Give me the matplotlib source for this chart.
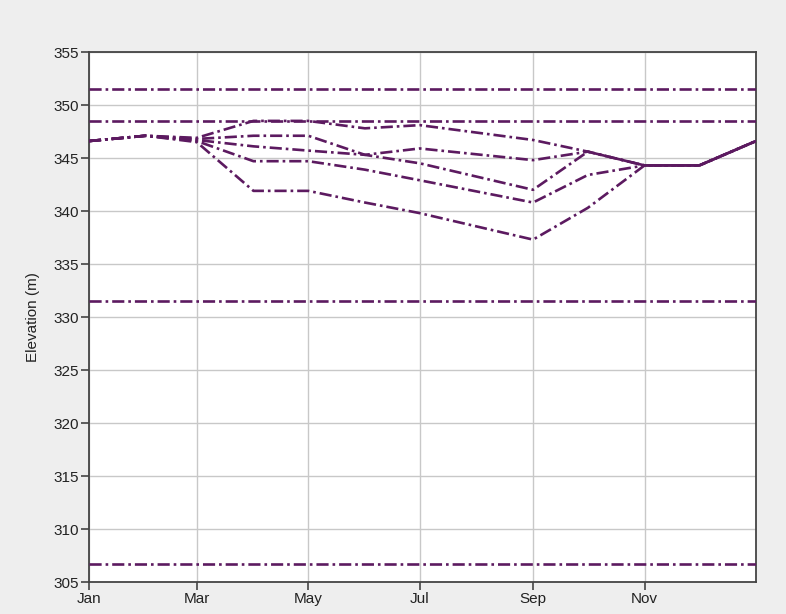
import matplotlib
matplotlib.use('Agg')
import matplotlib.pyplot as plt

# day of year for each point (Aug has no kink, so it is left out)
days = [0, 31, 59, 90, 120, 151, 181, 243, 273, 304, 334, 365]

# elevation traces (m)
trace_a = [346.6, 347.1, 346.9, 348.5, 348.5, 347.8, 348.1, 346.7, 345.6, 344.3, 344.3, 346.6]
trace_b = [346.6, 347.1, 346.8, 347.1, 347.1, 345.3, 345.9, 344.8, 345.6, 344.3, 344.3, 346.6]
trace_c = [346.6, 347.1, 346.7, 346.1, 345.7, 345.3, 344.5, 342.0, 345.6, 344.3, 344.3, 346.6]
trace_d = [346.6, 347.1, 346.6, 344.7, 344.7, 343.9, 342.9, 340.8, 343.4, 344.3, 344.3, 346.6]
trace_e = [346.6, 347.1, 346.5, 341.9, 341.9, 340.8, 339.8, 337.3, 340.3, 344.3, 344.3, 346.6]

# constant levels
levels = [351.5, 348.5, 331.5, 306.7]

tick_days = [0, 59, 120, 181, 243, 304]
tick_names = ['Jan', 'Mar', 'May', 'Jul', 'Sep', 'Nov']

plt.rcParams['font.family'] = ['Liberation Sans', 'DejaVu Sans']

fig = plt.figure(figsize=(7.86, 6.14), dpi=100, facecolor='#eeeeee')
ax = fig.add_axes([0.1132, 0.0521, 0.8486, 0.8632])
ax.set_facecolor('white')

col = '#5c1a60'
dash = (0, (4.6, 1.5, 1.0, 1.5))

for lv in levels:
    ax.axhline(lv, color=col, lw=1.9, linestyle=dash, zorder=3)

for tr in [trace_a, trace_b, trace_c, trace_d, trace_e]:
    ax.plot(days, tr, color=col, lw=1.9, linestyle=dash, zorder=4)

ax.set_xlim(0, 365)
ax.set_ylim(305, 355)
ax.set_xticks(tick_days)
ax.set_xticklabels(tick_names)
ax.set_yticks(range(305, 356, 5))
ax.grid(True, color='#c8c8c8', lw=1.0)
ax.set_axisbelow(True)

for s in ax.spines.values():
    s.set_color('#444444')
    s.set_linewidth(1.3)

ax.tick_params(direction='out', length=6, width=1.2, color='#444444',
               labelsize=11, labelcolor='#222222', pad=1)
ax.set_ylabel('Elevation (m)', fontsize=11, color='#222222', labelpad=10)

fig.savefig('out.png', dpi=100, facecolor=fig.get_facecolor())
